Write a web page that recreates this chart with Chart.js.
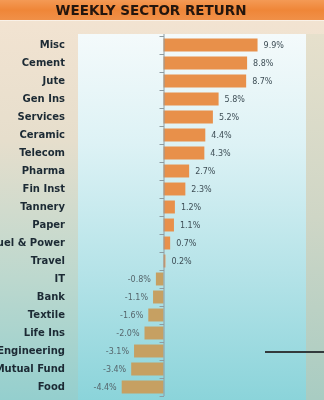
<!DOCTYPE html>
<html>
<head>
<meta charset="utf-8">
<script src="https://cdn.jsdelivr.net/npm/chart.js@4.4.1/dist/chart.umd.min.js"></script>
<style>
html,body{margin:0;padding:0;background:#fff;}
#wrap{width:324px;height:400px;position:relative;}
</style>
</head>
<body>
<div id="wrap"><canvas id="c" width="324" height="400"></canvas></div>
<script>
const titleText = "WEEKLY SECTOR RETURN";
const sectors = ["Misc","Cement","Jute","Gen Ins","Services","Ceramic","Telecom","Pharma","Fin Inst","Tannery","Paper","Fuel & Power","Travel","IT","Bank","Textile","Life Ins","Engineering","Mutual Fund","Food"];
const returns = [9.9,8.8,8.7,5.8,5.2,4.4,4.3,2.7,2.3,1.2,1.1,0.7,0.2,-0.8,-1.1,-1.6,-2.0,-3.1,-3.4,-4.4];
const valueLabels = ["9.9%","8.8%","8.7%","5.8%","5.2%","4.4%","4.3%","2.7%","2.3%","1.2%","1.1%","0.7%","0.2%","-0.8%","-1.1%","-1.6%","-2.0%","-3.1%","-3.4%","-4.4%"];

const POS_COLOR = '#E8904A';
const NEG_COLOR = '#C6A062';

const bgPlugin = {
  id: 'bg',
  beforeDraw(chart) {
    const ctx = chart.ctx, W = chart.width, H = chart.height;
    const ca = chart.chartArea;
    ctx.save();
    let g = ctx.createLinearGradient(0, 0, 0, H);
    g.addColorStop(0, '#F4E4D2');
    g.addColorStop(0.35, '#E6DECC');
    g.addColorStop(0.7, '#BCD8CE');
    g.addColorStop(1, '#94CFCE');
    ctx.fillStyle = g;
    ctx.fillRect(0, 0, W, H);
    const top = 34;
    g = ctx.createLinearGradient(0, top, 0, H);
    g.addColorStop(0, '#F4FAFB');
    g.addColorStop(0.3, '#DDF2F5');
    g.addColorStop(0.65, '#B5E3E8');
    g.addColorStop(1, '#8BD4DA');
    ctx.fillStyle = g;
    ctx.fillRect(ca.left, top, ca.right - ca.left, H - top);
    g = ctx.createLinearGradient(0, top, 0, H);
    g.addColorStop(0, '#E6E0CC');
    g.addColorStop(0.5, '#CFD6C6');
    g.addColorStop(1, '#A8CCC2');
    ctx.fillStyle = g;
    ctx.fillRect(ca.right, top, W - ca.right, H - top);
    g = ctx.createLinearGradient(0, 0, 0, 20);
    g.addColorStop(0, '#F49A55');
    g.addColorStop(0.5, '#EF8638');
    g.addColorStop(1, '#F09048');
    ctx.fillStyle = g;
    ctx.fillRect(0, 0, W, 20);
    ctx.fillStyle = 'rgba(255,255,255,0.5)';
    ctx.fillRect(0, 20, W, 1);
    ctx.fillStyle = '#24160E';
    ctx.font = 'bold 13.5px "DejaVu Sans"';
    ctx.textAlign = 'center';
    ctx.textBaseline = 'middle';
    ctx.fillText(titleText, 151, 11);
    ctx.restore();
  },
  afterDatasetsDraw(chart) {
    const ctx = chart.ctx;
    const xs = chart.scales.x, ys = chart.scales.y;
    const x0 = xs.getPixelForValue(0);
    ctx.save();
    ctx.strokeStyle = '#8E9CA2';
    ctx.lineWidth = 1;
    ctx.beginPath();
    ctx.moveTo(x0 + 0.5, chart.chartArea.top - 2);
    ctx.lineTo(x0 + 0.5, chart.chartArea.bottom);
    ctx.stroke();
    for (let i = 0; i <= sectors.length; i++) {
      const y = Math.round((ys.getPixelForValue(i - 1) + ys.getPixelForValue(i)) / 2) + 0.5;
      ctx.beginPath();
      ctx.moveTo(x0 - 4, y);
      ctx.lineTo(x0 + 0.5, y);
      ctx.stroke();
    }
    const meta = chart.getDatasetMeta(0);
    ctx.font = '8px "DejaVu Sans"';
    ctx.textBaseline = 'middle';
    meta.data.forEach((bar, i) => {
      const v = returns[i];
      if (v >= 0) {
        ctx.fillStyle = '#3E4E56';
        ctx.textAlign = 'left';
        ctx.fillText(valueLabels[i], bar.x + 6, bar.y + 1);
      } else {
        ctx.fillStyle = '#56666C';
        ctx.textAlign = 'right';
        ctx.fillText(valueLabels[i], bar.x - 5, bar.y + 1);
      }
    });
    ctx.strokeStyle = '#333A3C';
    ctx.lineWidth = 2;
    ctx.beginPath();
    ctx.moveTo(265, 352);
    ctx.lineTo(324, 352);
    ctx.stroke();
    ctx.restore();
  }
};

new Chart(document.getElementById('c'), {
  type: 'bar',
  data: {
    labels: sectors,
    datasets: [{
      data: returns,
      backgroundColor: returns.map(v => v >= 0 ? POS_COLOR : NEG_COLOR),
      borderWidth: 0,
      categoryPercentage: 1,
      barPercentage: 0.72
    }]
  },
  options: {
    indexAxis: 'y',
    responsive: false,
    animation: false,
    devicePixelRatio: 1,
    layout: { padding: { top: 36, bottom: 4, right: 18, left: 0 } },
    plugins: { legend: { display: false }, tooltip: { enabled: false }, title: { display: false } },
    scales: {
      x: { display: false, min: -9, max: 15 },
      y: {
        grid: { display: false, drawTicks: false },
        border: { display: false },
        ticks: {
          color: '#1C2A34',
          font: { family: 'DejaVu Sans', size: 10, weight: 'bold' },
          padding: 13,
          autoSkip: false
        },
        afterFit(scale) { scale.width = 78; scale.paddingTop = 0; scale.paddingBottom = 0; }
      }
    }
  },
  plugins: [bgPlugin]
});
</script>
</body>
</html>
